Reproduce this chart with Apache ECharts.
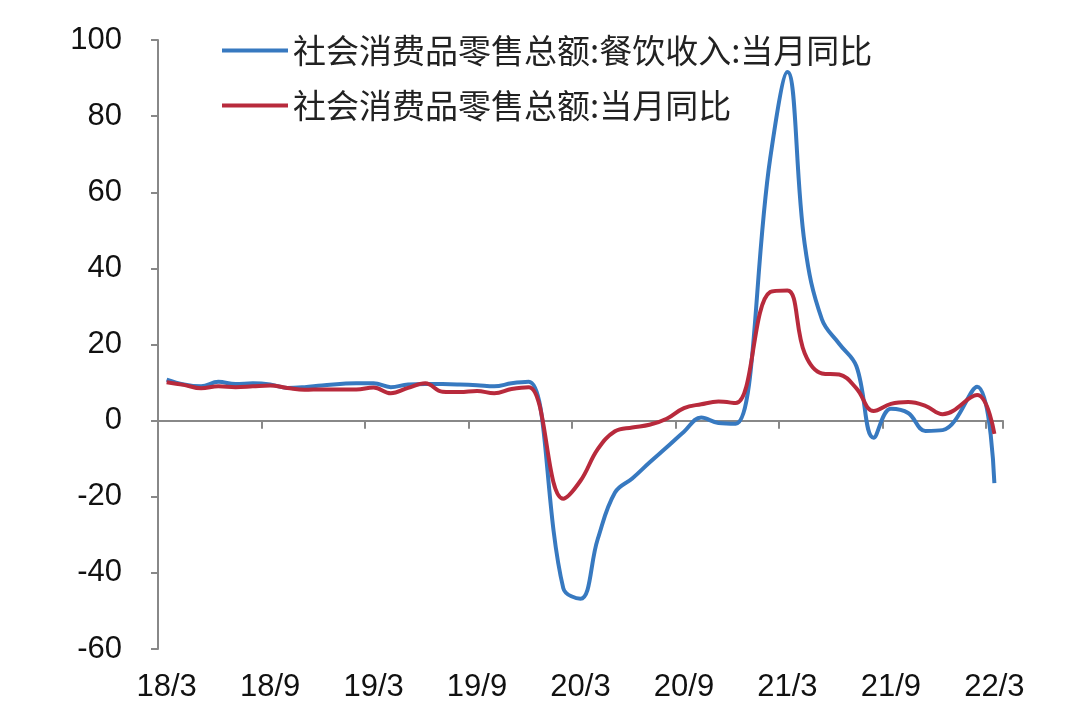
<!DOCTYPE html>
<html>
<head>
<meta charset="utf-8">
<script src="https://cdn.jsdelivr.net/npm/echarts@6/dist/echarts.min.js"></script>
<style>html,body{margin:0;padding:0;background:#fff;}#main{width:1080px;height:722px;}</style>
</head>
<body>
<div id="main"></div>
<script>
// Monthly categories 2018/3 .. 2022/3 (January values are not published separately: null)
const categories = [
  '18/3','18/4','18/5','18/6','18/7','18/8','18/9','18/10','18/11','18/12',
  '19/1','19/2','19/3','19/4','19/5','19/6','19/7','19/8','19/9','19/10','19/11','19/12',
  '20/1','20/2','20/3','20/4','20/5','20/6','20/7','20/8','20/9','20/10','20/11','20/12',
  '21/1','21/2','21/3','21/4','21/5','21/6','21/7','21/8','21/9','21/10','21/11','21/12',
  '22/1','22/2','22/3'
];
const cateringName = '社会消费品零售总额:餐饮收入:当月同比';
const retailName = '社会消费品零售总额:当月同比';
const cateringValues = [
  10.8, 9.5, 9.0, 10.2, 9.6, 9.8, 9.5, 8.6, 8.8, 9.2,
  null, 9.8, 9.8, 8.8, 9.5, 9.6, 9.6, 9.5, 9.3, 9.0, 9.8, 10.2,
  null, -44.0, -46.8, -31.1, -18.9, -15.2, -11.0, -7.0, -2.9, 0.8, -0.6, -0.8,
  null, 68.9, 91.6, 46.4, 26.6, 20.2, 14.3, -4.5, 3.1, 2.0, -2.7, -2.5,
  null, 8.9, -16.4
];
const retailValues = [
  10.1, 9.4, 8.5, 9.0, 8.8, 9.0, 9.2, 8.6, 8.1, 8.2,
  null, 8.2, 8.7, 7.2, 8.6, 9.8, 7.6, 7.5, 7.8, 7.2, 8.3, 8.8,
  null, -20.5, -15.8, -7.5, -2.8, -1.8, -1.1, 0.5, 3.3, 4.3, 5.0, 4.6,
  null, 33.8, 34.2, 17.7, 12.4, 12.1, 8.5, 2.5, 4.4, 4.9, 3.9, 1.7,
  null, 6.7, -3.5
];
const yMin = -60, yMax = 100, yStep = 20;

const axisGray = '#888888';
const numFont = '"Liberation Sans", Arial, sans-serif';
const chart = echarts.init(document.getElementById('main'), null, {renderer: 'canvas'});
chart.setOption({
  animation: false,
  backgroundColor: '#ffffff',
  grid: {left: 158, right: 77, top: 40, bottom: 73, containLabel: false},
  legend: {
    orient: 'vertical',
    left: 222,
    top: 34,
    padding: 0,
    itemGap: 22,
    icon: 'rect',
    itemWidth: 66,
    itemHeight: 4,
    textStyle: {fontSize: 33, color: '#222', fontFamily: '"Noto Sans CJK SC", sans-serif'},
    data: [cateringName, retailName]
  },
  xAxis: [
    {
      type: 'category',
      data: categories,
      boundaryGap: true,
      position: 'bottom',
      axisLine: {show: false, onZero: false},
      axisTick: {show: false},
      axisLabel: {interval: 5, margin: 23, fontSize: 31, color: '#111', fontFamily: numFont},
      splitLine: {show: false}
    },
    {
      type: 'category',
      data: categories,
      boundaryGap: true,
      position: 'top',
      axisLine: {show: true, onZero: true, lineStyle: {color: axisGray, width: 2}},
      axisTick: {show: true, inside: true, interval: 5, length: 8, lineStyle: {color: axisGray, width: 2}},
      axisLabel: {show: false},
      splitLine: {show: false}
    }
  ],
  yAxis: {
    type: 'value',
    min: yMin,
    max: yMax,
    interval: yStep,
    axisLine: {show: true, lineStyle: {color: axisGray, width: 2}},
    axisTick: {show: true, length: 7, lineStyle: {color: axisGray, width: 2}},
    axisLabel: {margin: 36, fontSize: 31, color: '#111', fontFamily: numFont},
    splitLine: {show: false}
  },
  series: [
    {
      name: cateringName,
      type: 'line',
      xAxisIndex: 0,
      data: cateringValues,
      smooth: 0.4,
      connectNulls: true,
      symbol: 'none',
      lineStyle: {color: '#3779C0', width: 4},
      itemStyle: {color: '#3779C0'},
      z: 3
    },
    {
      name: retailName,
      type: 'line',
      xAxisIndex: 0,
      data: retailValues,
      smooth: 0.4,
      connectNulls: true,
      symbol: 'none',
      lineStyle: {color: '#B82A3C', width: 4},
      itemStyle: {color: '#B82A3C'},
      z: 4
    }
  ]
});
</script>
</body>
</html>
